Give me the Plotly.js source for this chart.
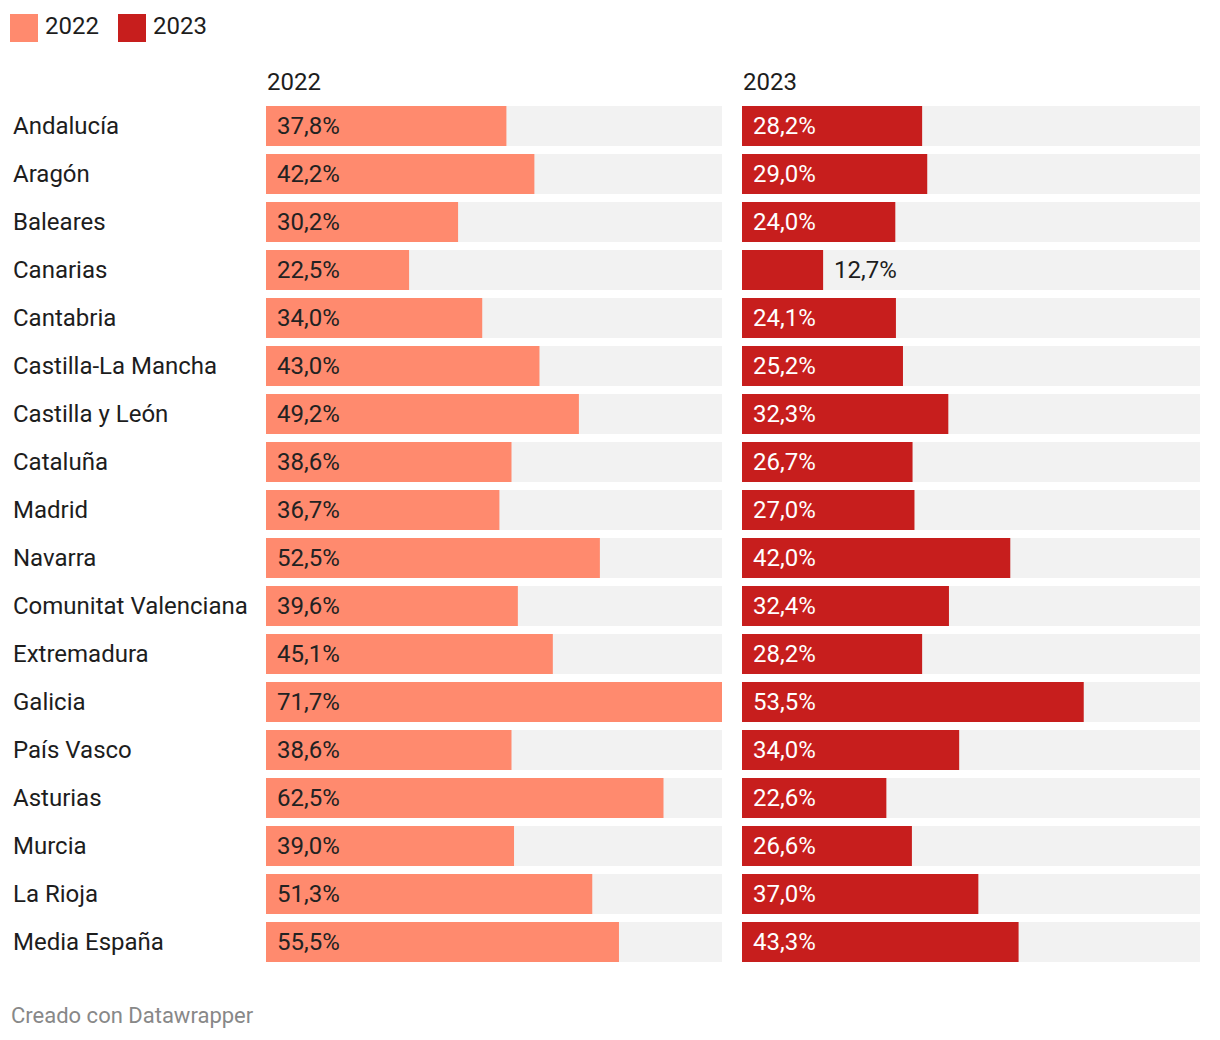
<!DOCTYPE html>
<html>
<head>
<meta charset="utf-8">
<script src="https://cdn.plot.ly/plotly-3.0.1.min.js"></script>
<style>html,body{margin:0;padding:0;background:#fff;}#chart{width:1220px;height:1040px;}</style>
</head>
<body>
<div id="chart"></div>
<script>
const regions = ["Andalucía","Aragón","Baleares","Canarias","Cantabria","Castilla-La Mancha","Castilla y León","Cataluña","Madrid","Navarra","Comunitat Valenciana","Extremadura","Galicia","País Vasco","Asturias","Murcia","La Rioja","Media España"];
const values2022 = [37.8,42.2,30.2,22.5,34.0,43.0,49.2,38.6,36.7,52.5,39.6,45.1,71.7,38.6,62.5,39.0,51.3,55.5];
const values2023 = [28.2,29.0,24.0,12.7,24.1,25.2,32.3,26.7,27.0,42.0,32.4,28.2,53.5,34.0,22.6,26.6,37.0,43.3];
const seriesNames = ["2022","2023"];
const scaleMax = 71.7;

const W = 1220, H = 1040;
const C22 = "#ff8a6e", C23 = "#c71e1d", BG = "#f2f2f2", TXT = "#1d1d1d";
const FONT = "Roboto, sans-serif";
const FS = 24;
const fmt = v => v.toFixed(1).replace(".", ",") + "%";
const px = x => x / W;
const py = y => 1 - y / H;

const bgVals = regions.map(() => scaleMax);
const traces = [
  {type:"bar", orientation:"h", y:regions, x:bgVals, xaxis:"x", yaxis:"y", marker:{color:BG}, hoverinfo:"skip", showlegend:false},
  {type:"bar", orientation:"h", y:regions, x:values2022, xaxis:"x", yaxis:"y", marker:{color:C22}, name:seriesNames[0], showlegend:false},
  {type:"bar", orientation:"h", y:regions, x:bgVals, xaxis:"x2", yaxis:"y2", marker:{color:BG}, hoverinfo:"skip", showlegend:false},
  {type:"bar", orientation:"h", y:regions, x:values2023, xaxis:"x2", yaxis:"y2", marker:{color:C23}, name:seriesNames[1], showlegend:false}
];

const annotations = [];
regions.forEach((r, i) => {
  annotations.push({xref:"paper", yref:"y", x:px(12), y:r, xanchor:"left", yanchor:"middle", text:r, showarrow:false, font:{family:FONT, size:FS, color:TXT}, xshift:-1});
  annotations.push({xref:"x", yref:"y", x:0, y:r, xanchor:"left", yanchor:"middle", text:fmt(values2022[i]), showarrow:false, font:{family:FONT, size:FS, color:"#222"}, xshift:9});
  const out = values2023[i] < 15;
  annotations.push({xref:"x2", yref:"y2", x:out ? values2023[i] : 0, y:r, xanchor:"left", yanchor:"middle", text:fmt(values2023[i]), showarrow:false, font:{family:FONT, size:FS, color: out ? TXT : "#ffffff"}, xshift:9});
});
// panel titles
annotations.push({xref:"paper", yref:"paper", x:px(266), y:py(82), xanchor:"left", yanchor:"middle", text:seriesNames[0], showarrow:false, font:{family:FONT, size:FS, color:TXT}, xshift:-1});
annotations.push({xref:"paper", yref:"paper", x:px(742), y:py(82), xanchor:"left", yanchor:"middle", text:seriesNames[1], showarrow:false, font:{family:FONT, size:FS, color:TXT}, xshift:-1});
// legend
annotations.push({xref:"paper", yref:"paper", x:px(44), y:py(26), xanchor:"left", yanchor:"middle", text:seriesNames[0], showarrow:false, font:{family:FONT, size:FS, color:TXT}, xshift:-1});
annotations.push({xref:"paper", yref:"paper", x:px(152), y:py(26), xanchor:"left", yanchor:"middle", text:seriesNames[1], showarrow:false, font:{family:FONT, size:FS, color:TXT}, xshift:-1});
// footer
annotations.push({xref:"paper", yref:"paper", x:px(10), y:py(1015), xanchor:"left", yanchor:"middle", text:"Creado con Datawrapper", showarrow:false, font:{family:FONT, size:22, color:"#888888"}, xshift:-1});

const shapes = [
  {type:"rect", xref:"paper", yref:"paper", x0:px(10), x1:px(38), y0:py(42), y1:py(14), fillcolor:C22, line:{width:0}},
  {type:"rect", xref:"paper", yref:"paper", x0:px(118), x1:px(146), y0:py(42), y1:py(14), fillcolor:C23, line:{width:0}}
];

const yax = {type:"category", domain:[py(966), py(102)], range:[regions.length - 0.5, -0.5], showticklabels:false, showgrid:false, zeroline:false, fixedrange:true};
const layout = {
  width:W, height:H,
  margin:{l:0, r:0, t:0, b:0, pad:0},
  paper_bgcolor:"#ffffff", plot_bgcolor:"rgba(0,0,0,0)",
  barmode:"overlay", bargap:8/48,
  font:{family:FONT, size:FS, color:TXT},
  xaxis:{domain:[px(266), px(722)], range:[0, scaleMax], visible:false, fixedrange:true, anchor:"y"},
  xaxis2:{domain:[px(742), px(1200)], range:[0, scaleMax], visible:false, fixedrange:true, anchor:"y2"},
  yaxis:Object.assign({}, yax),
  yaxis2:Object.assign({anchor:"x2"}, yax),
  annotations, shapes, showlegend:false
};

Plotly.newPlot("chart", traces, layout, {displayModeBar:false, staticPlot:true});
</script>
</body>
</html>
